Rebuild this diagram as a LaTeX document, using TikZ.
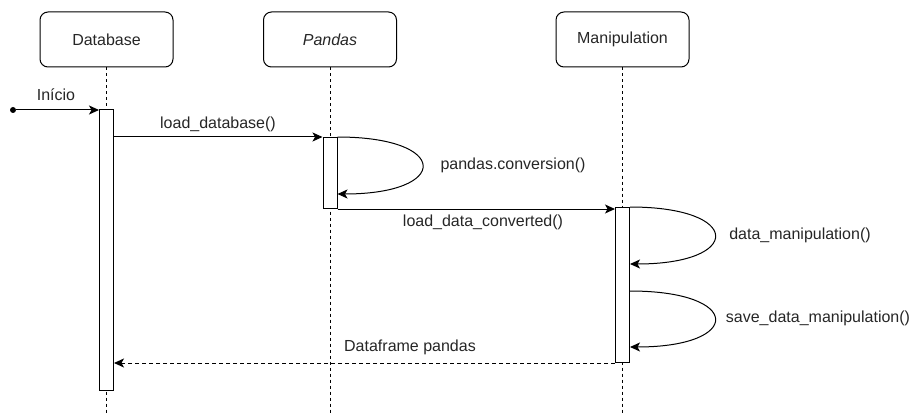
\documentclass[tikz,border=0pt]{standalone}
\usepackage{fontspec}
\setmainfont{Liberation Sans}
\usetikzlibrary{arrows.meta}

\tikzset{
  actor/.style={draw, rounded corners=8pt, minimum width=133pt, minimum height=55pt, line width=1pt},
  lifeline/.style={dash pattern=on 3pt off 3pt, line width=0.9pt},
  bar/.style={draw, fill=white, minimum width=14pt, inner sep=0pt, anchor=north, line width=1pt},
  msg/.style={line width=1pt, -{Stealth[length=10pt,width=9pt,inset=2.5pt]}},
  reply/.style={msg, dash pattern=on 4pt off 3pt},
  txt/.style={font=\fontsize{16}{19}\selectfont, text=black!85},
  lbl/.style={txt, inner sep=0pt},
}

\begin{document}
\begin{tikzpicture}[x=1pt,y=-1pt]
\useasboundingbox (0,0) rectangle (917,414);
\coordinate (bottom) at (0,414);

\node[actor,txt] (db) at (106.5,39.5) {Database};
\node[actor,txt] (pd) at (330,39.5) {\itshape Pandas};
\node[actor,txt] (mp) at (622.5,39.5) {Manipulation};

\draw[lifeline] (db.south) -- (db.south |- bottom);
\draw[lifeline] (pd.south) -- (pd.south |- bottom);
\draw[lifeline] (mp.south) -- (mp.south |- bottom);

\node[bar, minimum height=281pt] (dbbar) at (106.5,109) {};
\node[bar, minimum height=71pt] (pdbar) at (330,137) {};
\node[bar, minimum height=155pt] (mpbar) at (622.5,207) {};

\node[circle, fill, inner sep=0pt, minimum size=6pt] (start) at (13,110) {};
\draw[msg] (start) -- (start -| dbbar.west);
\node[lbl] (inicio) at (56,95) {Início};

\draw[msg] (dbbar.east |- pdbar.north) -- (pdbar.north west);
\node[lbl] (load) at (218,124) {load\_database()};

\draw[msg] (pdbar.north east) .. controls +(113,0) and +(113,0) .. ([yshift=-57pt]pdbar.north east);
\node[lbl] (conv) at (513,165) {pandas.conversion()};

\draw[msg] (pdbar.south east) -- (pdbar.south east -| mpbar.west);
\node[lbl] (loadconv) at (483,222) {load\_data\_converted()};

\draw[msg] (mpbar.north east) .. controls +(113,0) and +(113,0) .. ([yshift=-57pt]mpbar.north east);
\node[lbl] (manip) at (800,235) {data\_manipulation()};

\draw[msg] ([yshift=-84pt]mpbar.north east) .. controls +(113,0) and +(113,0) .. ([yshift=-140pt]mpbar.north east);
\node[lbl] (save) at (818,318) {save\_data\_manipulation()};

\draw[reply] (mpbar.south west) -- (mpbar.south west -| dbbar.east);
\node[lbl] (df) at (410,347) {Dataframe pandas};
\end{tikzpicture}
\end{document}
